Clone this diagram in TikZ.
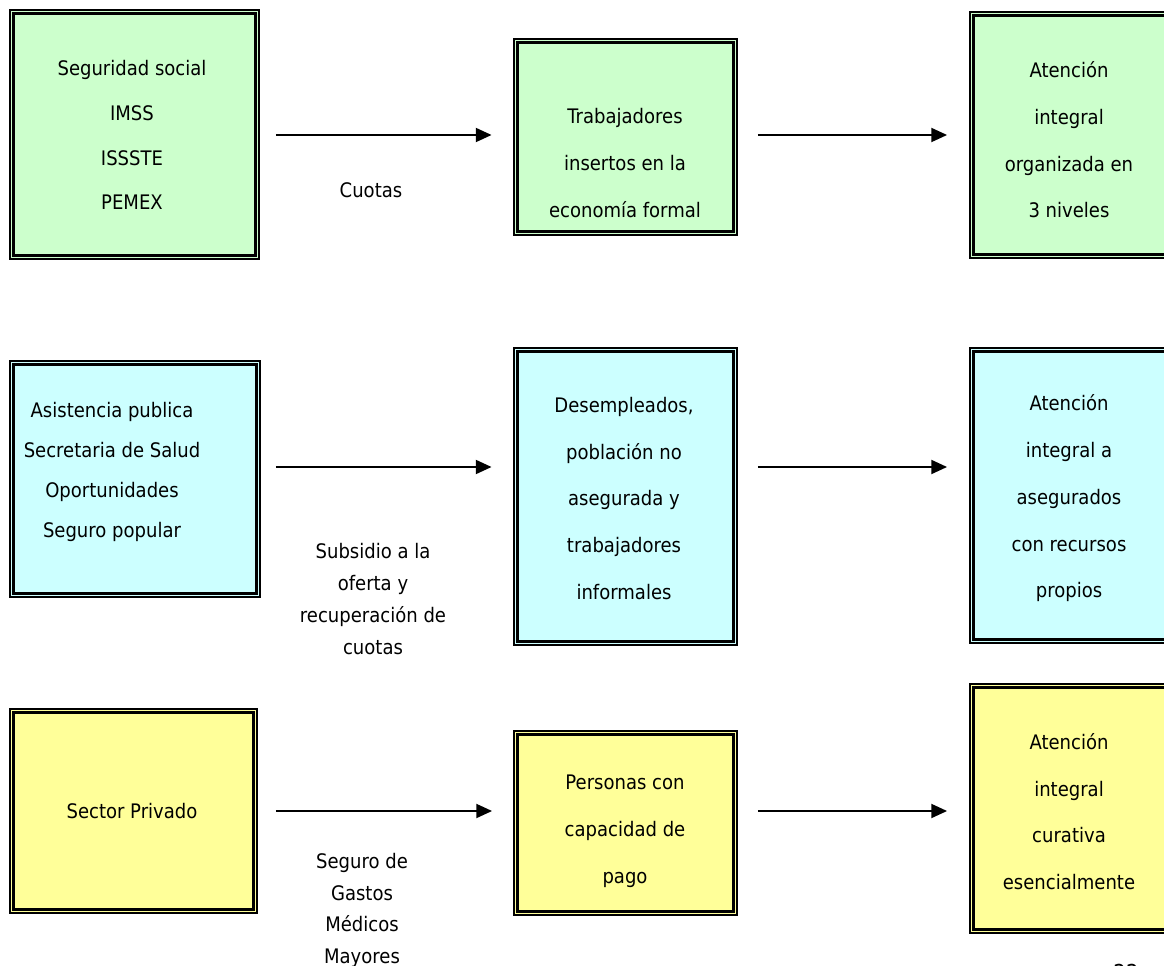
\documentclass[tikz,border=0pt]{standalone}
\usepackage{fontspec}
\setmainfont[FakeStretch=0.9]{DejaVu Sans}
\usetikzlibrary{arrows.meta,positioning}
\tikzset{>/.tip={Triangle[length=9pt,width=8pt]}}
\definecolor{verde}{HTML}{CCFFCC}
\definecolor{celeste}{HTML}{CCFFFF}
\definecolor{amarillo}{HTML}{FFFF99}
\tikzset{caja/.style={draw,line width=1.1pt,inner sep=0pt}}
\tikzset{texto/.style={align=center,inner sep=0pt,font=\fontsize{11.4}{26.6}\selectfont}}
\tikzset{etiqueta/.style={align=center,inner sep=0pt,font=\fontsize{11.4}{18.1}\selectfont}}
\tikzset{flecha/.style={->,line width=1.1pt}}
\def\marco#1{\draw[line width=1.7pt]([shift={(4.5,4.5)}]#1.north west) rectangle ([shift={(-4.5,-4.5)}]#1.south east);}

\begin{document}
\begin{tikzpicture}[x=0.02cm,y=-0.02cm]
        \useasboundingbox (0,0) rectangle (1164,966);
        % filas
        \coordinate(fila1) at (0,135);
        \coordinate(fila2) at (0,467);
        \coordinate(fila3) at (0,811);
        % cajas
        \node(b11)[caja,fill=verde,minimum width=4.98cm,minimum height=4.98cm] at (134.5,134.5){};
        \node(b12)[caja,fill=verde,minimum width=4.46cm,minimum height=3.92cm] at (625.5,137){};
        \node(b13)[caja,fill=verde,minimum width=4cm,minimum height=4.92cm] at (1070,135){};
        \node(b21)[caja,fill=celeste,minimum width=5cm,minimum height=4.72cm] at (135,479){};
        \node(b22)[caja,fill=celeste,minimum width=4.46cm,minimum height=5.94cm] at (625.5,496.5){};
        \node(b23)[caja,fill=celeste,minimum width=4cm,minimum height=5.9cm] at (1070,495.5){};
        \node(b31)[caja,fill=amarillo,minimum width=4.94cm,minimum height=4.08cm] at (133.5,811){};
        \node(b32)[caja,fill=amarillo,minimum width=4.46cm,minimum height=3.68cm] at (625.5,823){};
        \node(b33)[caja,fill=amarillo,minimum width=4cm,minimum height=4.98cm] at (1070,808.5){};
        \foreach \n in {b11,b12,b13,b21,b22,b23,b31,b32,b33} {\marco{\n}}
        % textos
        \node(t11)[texto,font=\fontsize{11.4}{25.5}\selectfont] at (132,135){Seguridad social\\IMSS\\ISSSTE\\PEMEX};
        \node(t12)[texto] at (625,163){Trabajadores\\insertos en la\\economía formal};
        \node(t13)[texto] at (1069,140){Atención\\integral\\organizada en\\3 niveles};
        \node(t21)[texto,font=\fontsize{11.4}{22.7}\selectfont] at (112,472){Asistencia publica\\Secretaria de Salud\\Oportunidades\\Seguro popular};
        \node(t22)[texto] at (624,498.5){Desempleados,\\población no\\asegurada y\\trabajadores\\informales};
        \node(t23)[texto] at (1069,498.5){Atención\\integral a\\asegurados\\con recursos\\propios};
        \node(t31)[texto] at (132,811){Sector Privado};
        \node(t32)[texto] at (625,831.5){Personas con\\capacidad de\\pago};
        \node(t33)[texto] at (1069,811.5){Atención\\integral\\curativa\\esencialmente};
        % flechas
        \draw[flecha,shorten <=0.32cm,shorten >=0.43cm] (b11.east |- fila1) -- (b12.west |- fila1);
        \draw[flecha,shorten <=0.4cm,shorten >=0.44cm] (b12.east |- fila1) -- (b13.west |- fila1);
        \draw[flecha,shorten <=0.3cm,shorten >=0.43cm] (b21.east |- fila2) -- (b22.west |- fila2);
        \draw[flecha,shorten <=0.4cm,shorten >=0.44cm] (b22.east |- fila2) -- (b23.west |- fila2);
        \draw[flecha,shorten <=0.36cm,shorten >=0.42cm] (b31.east |- fila3) -- (b32.west |- fila3);
        \draw[flecha,shorten <=0.4cm,shorten >=0.44cm] (b32.east |- fila3) -- (b33.west |- fila3);
        \node(cuotas)[etiqueta] at (371,190){Cuotas};
        \node(subsidio)[etiqueta] at (373,599){Subsidio a la\\oferta y\\recuperación de\\cuotas};
        \node(seguro)[etiqueta] at (362,910.5){Seguro de\\Gastos\\Médicos\\Mayores};
        \node(pag)[inner sep=0pt,font=\fontsize{12.5}{15}\selectfont] at (1126,972){22};
      \end{tikzpicture}
\end{document}
